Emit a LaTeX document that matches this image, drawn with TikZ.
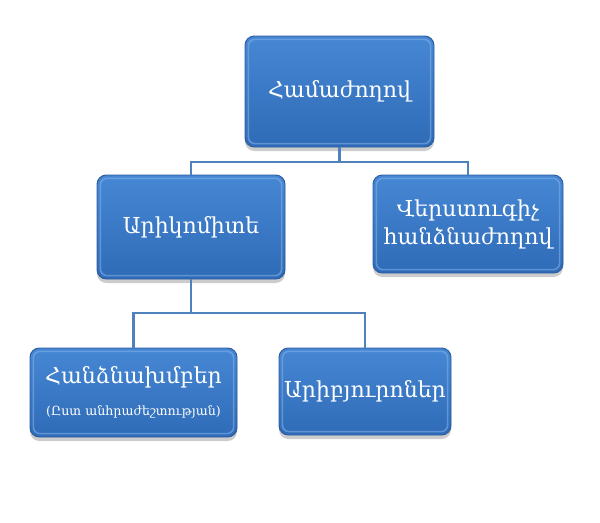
\documentclass[tikz,border=0pt]{standalone}
\usepackage{fontspec}
\setmainfont{DejaVu Serif}
\usetikzlibrary{shadows}
\definecolor{boxtop}{HTML}{4687D4}
\definecolor{boxbot}{HTML}{2F6BB7}
\definecolor{boxedge}{HTML}{2A5C9E}
\definecolor{boxshine}{HTML}{7FAEE6}
\definecolor{linkblue}{HTML}{4F81BD}
\tikzset{
  orgbox/.style={draw=boxedge, line width=0.7pt, rounded corners=7pt,
    top color=boxtop, bottom color=boxbot, text=white, align=center,
    inner sep=0pt, font=\fontsize{16.5}{21}\selectfont,
    drop shadow={shadow xshift=0pt, shadow yshift=-3pt, opacity=0.4},
    path picture={\draw[boxshine, line width=1.2pt, rounded corners=5pt, opacity=0.6]
      ([shift={(2.5pt,-2.5pt)}]path picture bounding box.north west) rectangle
      ([shift={(-2.5pt,2.5pt)}]path picture bounding box.south east);}},
  link/.style={draw=linkblue, line width=1.8pt}
}
\begin{document}
\begin{tikzpicture}[x=0.75pt,y=-0.75pt]
\useasboundingbox (0,0) rectangle (600,522);
% top level
\node[orgbox, minimum width=141.75pt, minimum height=83.25pt] (congress) at (339.5,91.5) {Համաժողով};
% second level
\node[orgbox, minimum width=141pt, minimum height=78pt] (council) at (191,227) {Արիկոմիտե};
\node[orgbox, minimum width=142.5pt, minimum height=73.5pt] (audit) at (468,224) {Վերստուգիչ\\հանձնաժողով};
% third level
\node[orgbox, minimum width=155.25pt, minimum height=66.75pt] (groups) at (133.5,392.5)
  {Հանձնախմբեր\\[3pt]{\fontsize{9.5}{12}\selectfont(Ըստ անհրաժեշտության)}};
\node[orgbox, minimum width=129pt, minimum height=65.25pt] (bureaus) at (365,391.5) {Արիբյուրոներ};
% connectors
\coordinate (j1) at (339.5,162);
\coordinate (j2) at (191,313);
\draw[link] (congress.south) -- (j1);
\draw[link] (council.north) |- (j1) -| (audit.north);
\draw[link] (council.south) -- (j2);
\draw[link] (groups.north) |- (j2) -| (bureaus.north);
\end{tikzpicture}
\end{document}
